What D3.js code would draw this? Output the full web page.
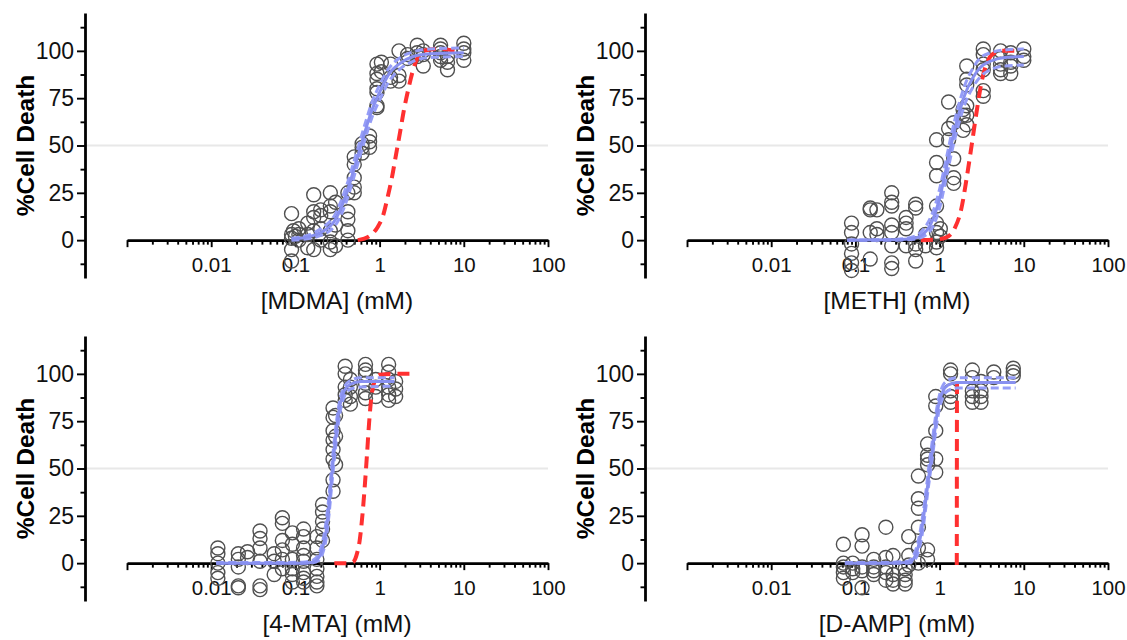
<!DOCTYPE html>
<html>
<head>
<meta charset="utf-8">
<script src="https://cdn.jsdelivr.net/npm/d3@7"></script>
<style>
  body { margin: 0; background: #fff; }
  svg { display: block; }
</style>
</head>
<body>
<div id="chart"></div>
<script>
// ---- data: [concentration (mM), % cell death] ----
const mdmaPoints = [
  [0.09,14],[0.09,3],[0.09,1],[0.09,-5],[0.09,-11],[0.095,5],[0.1,2],
  [0.11,6],[0.11,3],[0.11,0],[0.14,9],[0.14,3],[0.14,-4],
  [0.165,24],[0.165,15],[0.165,12],[0.165,5],[0.165,-5],
  [0.2,16],[0.2,13],[0.2,6],[0.2,0],
  [0.26,25],[0.26,18],[0.26,15],[0.26,5],[0.26,-1],[0.26,-5],
  [0.3,20],[0.3,8],[0.3,-3],
  [0.42,25],[0.42,15],[0.42,11],[0.42,5],[0.42,0],
  [0.5,44],[0.5,40],[0.5,33],[0.5,28],[0.5,25],
  [0.62,51],[0.62,49],[0.62,46],[0.76,55],[0.76,52],[0.76,49],
  [0.93,93],[0.93,88],[0.93,85],[0.93,80],[0.93,78],[0.93,71],[0.93,70],
  [1.05,94],[1.05,89],[1.35,93],[1.35,86],[1.35,84],
  [1.7,100],[1.7,87],[1.7,84],[2.15,98],[2.15,96],
  [2.8,103],[2.8,99],[2.8,97],[3.3,100],[3.3,98],[3.3,92],
  [5.3,103],[5.3,101],[5.3,99],[5.3,97],[5.3,95],
  [6.4,97],[6.4,94],[6.4,90],[10,104],[10,101],[10,99],[10,95]
];
const methPoints = [
  [0.09,9],[0.09,4],[0.09,-2],[0.09,-7],[0.09,-12],[0.09,-16],
  [0.15,17],[0.15,16],[0.15,4],[0.15,-10],[0.18,16],[0.18,6],[0.18,3],
  [0.27,25],[0.27,20],[0.27,18],[0.27,8],[0.27,4],[0.27,-3],[0.27,-12],[0.27,-15],
  [0.4,12],[0.4,9],[0.4,6],[0.4,-3],
  [0.52,19],[0.52,17],[0.52,-2],[0.52,-5],[0.52,-11],[0.68,3],[0.68,-3],
  [0.92,53],[0.92,41],[0.92,34],[0.92,18],[0.92,9],[0.92,4],[0.92,-1],[0.92,-4],
  [1.02,6],[1.02,2],[1.28,73],[1.28,59],[1.28,53],
  [1.47,62],[1.47,43],[1.47,33],[1.47,30],[1.9,69],[1.9,66],[1.9,58],
  [2.1,92],[2.1,85],[2.1,82],[2.1,71],[2.1,66],[2.1,61],
  [3.3,101],[3.3,98],[3.3,93],[3.3,90],[3.3,79],[3.3,76],
  [5.3,100],[5.3,96],[5.3,93],[5.3,90],[5.3,88],
  [7,99],[7,94],[7,92],[7,88],[10,101],[10,97],[10,95]
];
const mtaPoints = [
  [0.012,8],[0.012,5],[0.012,0],[0.012,-5],[0.012,-8],
  [0.021,5],[0.021,2],[0.021,-2],[0.021,-12],[0.021,-13],[0.027,6],[0.027,3],
  [0.038,17],[0.038,13],[0.038,8],[0.038,1],[0.038,-12],[0.038,-14],
  [0.056,5],[0.056,1],[0.056,-6],
  [0.07,24],[0.07,21],[0.07,12],[0.07,7],[0.07,2],[0.07,-3],
  [0.092,16],[0.092,10],[0.092,2],[0.092,-3],[0.092,-6],[0.092,-10],
  [0.125,18],[0.125,14],[0.125,8],[0.125,4],[0.125,1],[0.125,-5],[0.125,-8],[0.125,-10],
  [0.18,14],[0.18,8],[0.18,2],[0.18,-3],[0.18,-7],[0.18,-10],[0.18,-12],
  [0.21,31],[0.21,27],[0.21,22],[0.21,18],[0.21,12],
  [0.28,82],[0.28,77],[0.28,70],[0.28,65],[0.28,60],[0.28,55],[0.28,44],[0.28,38],
  [0.3,78],[0.3,67],[0.3,52],
  [0.39,104],[0.39,100],[0.39,93],[0.39,89],[0.39,86],
  [0.45,97],[0.45,93],[0.45,88],[0.45,84],
  [0.68,105],[0.68,102],[0.68,100],[0.68,95],[0.68,90],[0.68,87],
  [0.9,97],[0.9,93],[0.9,88],
  [1.28,105],[1.28,101],[1.28,97],[1.28,93],[1.28,89],[1.28,86],
  [1.55,96],[1.55,92],[1.55,88]
];
const dampPoints = [
  [0.072,10],[0.072,0],[0.072,-2],[0.072,-5],[0.072,-8],
  [0.093,0],[0.093,-3],[0.093,-5],
  [0.12,15],[0.12,9],[0.12,-2],[0.12,-4],[0.12,-13],
  [0.165,2],[0.165,-2],[0.165,-4],[0.165,-6],
  [0.23,19],[0.23,3],[0.23,-2],[0.23,-5],[0.23,-9],
  [0.28,4],[0.28,-6],[0.28,-9],[0.28,-11],
  [0.39,-3],[0.39,-6],[0.39,-9],[0.39,-11],[0.43,14],[0.43,4],[0.43,-1],
  [0.56,46],[0.56,34],[0.56,29],[0.56,19],[0.56,8],[0.56,0],
  [0.72,63],[0.72,57],[0.72,55],[0.72,52],[0.72,7],[0.72,2],
  [0.9,88],[0.9,83],[0.9,70],[0.9,55],[0.9,48],
  [1.35,102],[1.35,100],[1.35,91],[1.35,88],[1.35,85],
  [2.45,102],[2.45,98],[2.45,91],[2.45,88],[2.45,85],
  [3.1,96],[3.1,91],[3.1,88],[3.1,85],
  [4.4,101],[4.4,98],[7.5,103],[7.5,101],[7.5,99]
];

// fitted curves (blue = fit with upper / lower bands, red = comparison curve)
const mdmaFit   = [[0.09,0.5],[0.15,2],[0.2,4],[0.3,11],[0.4,24],[0.5,38],[0.6,50],[0.7,60],[0.8,68],[1,78],[1.3,88],[1.7,93],[2.5,97],[4,98.5],[10,99]];
const mdmaUpper = [[0.09,1],[0.15,3],[0.2,6],[0.3,14],[0.4,28],[0.5,42],[0.6,54],[0.7,64],[0.8,72],[1,82],[1.3,91],[1.7,96],[2.5,99.5],[4,101],[10,101.5]];
const mdmaLower = [[0.09,0],[0.15,1],[0.2,2.5],[0.3,8],[0.4,20],[0.5,34],[0.6,46],[0.7,56],[0.8,64],[1,74],[1.3,84],[1.7,90],[2.5,94.5],[4,96.5],[10,97]];
const mdmaRed   = [[0.55,0],[0.75,2],[0.95,7],[1.1,13],[1.25,23],[1.4,33],[1.55,44],[1.75,57],[1.95,69],[2.2,80],[2.5,90],[2.8,96],[3.3,100],[5,101],[8,100]];

const methFit   = [[0.08,0],[0.3,0.2],[0.5,1],[0.7,5],[0.85,12],[1,22],[1.2,38],[1.4,52],[1.7,67],[2,77],[2.5,86],[3,91],[4,94.5],[6,96.5],[10,97]];
const methUpper = [[0.08,0],[0.3,0.4],[0.5,2],[0.7,8],[0.85,16],[1,27],[1.2,43],[1.4,57],[1.7,72],[2,82],[2.5,91],[3,96],[4,99],[6,100.5],[10,101]];
const methLower = [[0.08,0],[0.3,0],[0.5,0.5],[0.7,3],[0.85,8],[1,17],[1.2,33],[1.4,47],[1.7,62],[2,72],[2.5,81],[3,86],[4,90],[6,92],[10,92.5]];
const methRed   = [[0.6,0],[0.9,0.3],[1.2,1.5],[1.5,6],[1.8,16],[2.1,33],[2.4,50],[2.8,70],[3.2,85],[3.6,93],[4.2,98],[5.5,100],[8,100]];

const mtaFit    = [[0.0115,0],[0.05,0],[0.12,0],[0.16,0.5],[0.19,3],[0.21,8],[0.23,16],[0.25,30],[0.27,46],[0.29,60],[0.31,72],[0.34,84],[0.38,91],[0.45,94.5],[0.6,96],[1.5,96]];
const mtaUpper  = [[0.0115,0.3],[0.05,0.3],[0.12,0.5],[0.16,1.5],[0.19,5],[0.21,11],[0.23,21],[0.25,35],[0.27,51],[0.29,65],[0.31,76],[0.34,87],[0.38,93],[0.45,96.5],[0.6,98],[1.5,98]];
const mtaLower  = [[0.0115,0],[0.05,0],[0.12,0],[0.16,0.2],[0.19,1.5],[0.21,5],[0.23,12],[0.25,25],[0.27,41],[0.29,55],[0.31,67],[0.34,80],[0.38,88],[0.45,92],[0.6,93],[1.5,93.5]];
const mtaRed    = [[0.29,0],[0.4,0],[0.48,0.5],[0.53,4],[0.58,12],[0.63,27],[0.67,42],[0.71,58],[0.75,74],[0.8,88],[0.87,96],[1,99.5],[1.5,100],[2.5,100]];

const dampFit   = [[0.075,0],[0.2,0],[0.42,0.3],[0.5,3],[0.56,9],[0.62,19],[0.68,32],[0.74,45],[0.8,56],[0.86,67],[0.92,77],[1,86],[1.1,91],[1.25,94],[1.6,95.5],[8,95.5]];
const dampUpper = [[0.075,0.3],[0.2,0.3],[0.42,1],[0.5,5],[0.56,12],[0.62,23],[0.68,36],[0.74,50],[0.8,61],[0.86,72],[0.92,81],[1,89],[1.1,94],[1.25,96.5],[1.6,98],[8,98]];
const dampLower = [[0.075,0],[0.2,0],[0.42,0],[0.5,1.5],[0.56,6],[0.62,15],[0.68,28],[0.74,41],[0.8,52],[0.86,63],[0.92,73],[1,82],[1.1,88],[1.25,91],[1.6,92.5],[8,92.5]];
const dampRed   = [[1.6,-1],[1.61,97],[1.8,97]];

const xLabelTicks = [0.01, 0.1, 1, 10, 100];
const yMajorTicks = [0, 25, 50, 75, 100];
const yMinorTicks = [-12.5, 12.5, 37.5, 62.5, 87.5, 112.5];
const drugNames = ['[MDMA] (mM)', '[METH] (mM)', '[4-MTA] (mM)', '[D-AMP] (mM)'];

// ---- drawing ----
const svg = d3.select('#chart').append('svg')
    .attr('width', 1127)
    .attr('height', 640)
    .style('font-family', '"Liberation Sans", Arial, sans-serif');

const panels = [
    { dx: 0,   dy: 0,   title: drugNames[0], pts: mdmaPoints, fit: mdmaFit, up: mdmaUpper, lo: mdmaLower, red: mdmaRed },
    { dx: 560, dy: 0,   title: drugNames[1], pts: methPoints, fit: methFit, up: methUpper, lo: methLower, red: methRed },
    { dx: 0,   dy: 323, title: drugNames[2], pts: mtaPoints,  fit: mtaFit,  up: mtaUpper,  lo: mtaLower,  red: mtaRed },
    { dx: 560, dy: 323, title: drugNames[3], pts: dampPoints, fit: dampFit, up: dampUpper, lo: dampLower, red: dampRed }
];

panels.forEach(p => {
    const g = svg.append('g').attr('transform', `translate(${p.dx},${p.dy})`);

    const x = d3.scaleLog().domain([0.001, 100]).range([127, 548]);
    const y = d3.scaleLinear().domain([-20, 120]).range([278, 13]);

    // 50% reference line
    g.append('line')
        .attr('x1', 85).attr('x2', 548)
        .attr('y1', y(50)).attr('y2', y(50))
        .attr('stroke', '#e8e8e8')
        .attr('stroke-width', 2);

    // x axis (log, drawn at y = 0)
    const xAxis = g.append('g')
        .attr('transform', `translate(0,${y(0)})`)
        .call(d3.axisBottom(x)
            .tickValues(x.ticks())
            .tickSizeOuter(0)
            .tickSizeInner(6)
            .tickFormat(d => xLabelTicks.includes(d) ? d3.format('~g')(d) : ''));
    xAxis.select('.domain').attr('stroke-width', 2.8);
    xAxis.selectAll('.tick line')
        .attr('stroke-width', 1.9)
        .attr('y2', d => Math.abs(Math.log10(d) % 1) < 1e-9 ? 7 : 4.5);
    xAxis.selectAll('.tick text')
        .attr('y', 32).attr('dy', 0)
        .style('font-size', '20.5px')
        .attr('fill', '#111');

    // y axis
    const yAxis = g.append('g')
        .attr('transform', 'translate(85,0)')
        .call(d3.axisLeft(y)
            .tickValues(yMajorTicks.concat(yMinorTicks))
            .tickSizeOuter(0)
            .tickSizeInner(8)
            .tickPadding(3)
            .tickFormat(d => yMajorTicks.includes(d) ? d : ''));
    yAxis.select('.domain').attr('stroke-width', 2.8);
    yAxis.selectAll('.tick line')
        .attr('stroke-width', 1.9)
        .attr('x2', d => yMajorTicks.includes(d) ? -8 : -4.5);
    yAxis.selectAll('.tick text')
        .style('font-size', '23px')
        .attr('fill', '#111');

    // axis titles
    g.append('text')
        .attr('transform', `translate(34,${(y(-20) + y(120)) / 2}) rotate(-90)`)
        .attr('text-anchor', 'middle')
        .style('font-size', '24.5px')
        .style('font-weight', 'bold')
        .text('%Cell Death');

    g.append('text')
        .attr('x', 337)
        .attr('y', 309)
        .attr('text-anchor', 'middle')
        .style('font-size', '24.5px')
        .attr('fill', '#111')
        .text(p.title);

    // data points
    g.append('g').selectAll('circle')
        .data(p.pts)
        .enter()
        .append('circle')
        .attr('cx', d => x(d[0]))
        .attr('cy', d => y(d[1]))
        .attr('r', 7)
        .attr('fill', 'none')
        .attr('stroke', '#505050')
        .attr('stroke-width', 1.4);

    const line = d3.line()
        .x(d => x(d[0]))
        .y(d => y(d[1]))
        .curve(d3.curveMonotoneX);

    // red comparison curve
    g.append('path')
        .attr('d', line(p.red))
        .attr('fill', 'none')
        .attr('stroke', '#ff3030')
        .attr('stroke-width', 4)
        .attr('stroke-dasharray', '12,7');

    // blue fit + bands
    [p.up, p.lo].forEach(band => {
        g.append('path')
            .attr('d', line(band))
            .attr('fill', 'none')
            .attr('stroke', '#959df7')
            .attr('stroke-width', 3)
            .attr('stroke-dasharray', '8,4');
    });
    g.append('path')
        .attr('d', line(p.fit))
        .attr('fill', 'none')
        .attr('stroke', '#8890f0')
        .attr('stroke-width', 3);
});
</script>
</body>
</html>
